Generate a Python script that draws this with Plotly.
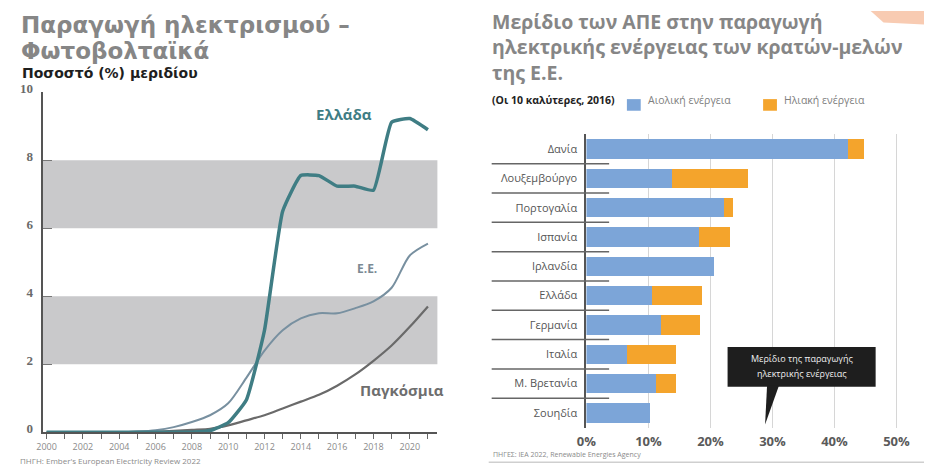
import plotly.graph_objects as go

W, H = 926, 474


def px(x):
    return x / W


def py(y):
    return 1 - y / H


# ---- Left panel: solar share of electricity generation (%) ----
years = list(range(2000, 2022))
greece = [0, 0, 0, 0, 0, 0, 0, 0, 0, 0.05, 0.28, 0.95, 3.0, 6.5, 7.55, 7.55,
          7.24, 7.24, 7.12, 9.12, 9.23, 8.9]
eu = [0, 0, 0, 0, 0, 0.02, 0.06, 0.15, 0.3, 0.5, 0.85, 1.6, 2.4, 3.0, 3.35,
      3.5, 3.5, 3.65, 3.85, 4.25, 5.2, 5.55]
world = [0, 0, 0, 0, 0, 0.01, 0.02, 0.04, 0.07, 0.1, 0.2, 0.35, 0.5, 0.7, 0.9,
         1.1, 1.37, 1.7, 2.1, 2.55, 3.1, 3.7]
bands = [(2, 4), (6, 8)]

# ---- Right panel: wind / solar share of electricity, top 10 EU (2016) ----
countries = ["Δανία", "Λουξεμβούργο", "Πορτογαλία", "Ισπανία", "Ιρλανδία",
             "Ελλάδα", "Γερμανία", "Ιταλία", "Μ. Βρετανία", "Σουηδία"]
wind = [42.2, 13.8, 22.2, 18.2, 20.6, 10.5, 12.1, 6.5, 11.2, 10.2]
solar = [2.5, 12.3, 1.4, 5.0, 0.0, 8.1, 6.2, 8.0, 3.3, 0.0]
pct_ticks = [0, 10, 20, 30, 40, 50]
pct_labels = [f"{v}%" for v in pct_ticks]

C_GREECE = "#3f7d84"
C_EU = "#7890a0"
C_WORLD = "#6a6a6a"
C_BAND = "#c9c9cb"
C_WIND = "#7ca5d8"
C_SOLAR = "#f4a42c"
C_TITLE = "#868686"

fig = go.Figure()

fig.add_trace(go.Scatter(x=years, y=world, mode="lines", xaxis="x", yaxis="y",
                         line=dict(color=C_WORLD, width=2.2, shape="spline", smoothing=0.8)))
fig.add_trace(go.Scatter(x=years, y=eu, mode="lines", xaxis="x", yaxis="y",
                         line=dict(color=C_EU, width=2, shape="spline", smoothing=0.8)))
fig.add_trace(go.Scatter(x=years, y=greece, mode="lines", xaxis="x", yaxis="y",
                         line=dict(color=C_GREECE, width=3.5, shape="spline", smoothing=0.4)))

fig.add_trace(go.Bar(y=countries, x=wind, orientation="h", xaxis="x2", yaxis="y2",
                     marker=dict(color=C_WIND, line=dict(width=0)), name="Αιολική ενέργεια"))
fig.add_trace(go.Bar(y=countries, x=solar, orientation="h", xaxis="x2", yaxis="y2",
                     marker=dict(color=C_SOLAR, line=dict(width=0)), name="Ηλιακή ενέργεια"))

shapes = []
for lo, hi in bands:
    shapes.append(dict(type="rect", xref="x domain", yref="y", x0=0, x1=1, y0=lo, y1=hi,
                       fillcolor=C_BAND, line=dict(width=0), layer="below"))

# short separators between country rows
for i in range(len(countries) - 1):
    shapes.append(dict(type="line", xref="paper", yref="y2", x0=px(488), x1=px(607),
                       y0=i + 0.5, y1=i + 0.5, line=dict(color="#666", width=1.5)))

# callout box with pointer
shapes.append(dict(type="rect", xref="paper", yref="paper", x0=px(727), x1=px(877),
                   y0=py(388), y1=py(347), fillcolor="#1e1e1e", line=dict(width=0)))
shapes.append(dict(type="path", xref="paper", yref="paper",
                   path=f"M {px(767)},{py(387)} L {px(779)},{py(387)} L {px(765)},{py(427)} Z",
                   fillcolor="#1e1e1e", line=dict(width=0)))

# legend swatches
shapes.append(dict(type="rect", xref="paper", yref="paper", x0=px(625), x1=px(639),
                   y0=py(103), y1=py(91), fillcolor=C_WIND, line=dict(width=0)))
shapes.append(dict(type="rect", xref="paper", yref="paper", x0=px(763), x1=px(777),
                   y0=py(103), y1=py(91), fillcolor=C_SOLAR, line=dict(width=0)))

# footer rule on the right and corner accent
shapes.append(dict(type="line", xref="paper", yref="paper", x0=px(485), x1=1,
                   y0=py(466), y1=py(466), line=dict(color="#cfcfcf", width=1.5)))
shapes.append(dict(type="path", xref="paper", yref="paper",
                   path=f"M {px(872)},1 L 1,1 L 1,{py(14)} L {px(885)},{py(12)} Z",
                   fillcolor="#f8cbb2", line=dict(width=0)))


def txt(x, y, s, size, color, family="Open Sans", bold=False, xanchor="left", yanchor="middle"):
    if bold:
        s = f"<b>{s}</b>"
    return dict(xref="paper", yref="paper", x=px(x), y=py(y), text=s, showarrow=False,
                xanchor=xanchor, yanchor=yanchor,
                font=dict(size=size, color=color, family=family))


annotations = [
    txt(9, 14, "Παραγωγή ηλεκτρισμού –", 23, C_TITLE, "DejaVu Sans", True),
    txt(9, 41, "Φωτοβολταϊκά", 23, C_TITLE, "DejaVu Sans", True),
    txt(10, 64, "Ποσοστό (%) μεριδίου", 14, "#1e1e1e", "DejaVu Sans", True),
    txt(338, 106, "Ελλάδα", 15, C_GREECE, "Open Sans", True, "center"),
    txt(362, 266, "Ε.Ε.", 12, "#7b8a94", "Open Sans", True, "center"),
    txt(397, 391, "Παγκόσμια", 15, "#6e6e6e", "Open Sans", True, "center"),
    txt(8, 464, "ΠΗΓΗ: Ember's European Electricity Review 2022", 8, "#8a8a8a", "Open Sans"),
    txt(486, 11, "Μερίδιο των ΑΠΕ στην παραγωγή", 19.5, C_TITLE, "Open Sans", True),
    txt(486, 37, "ηλεκτρικής ενέργειας των κρατών-μελών", 19.5, C_TITLE, "Open Sans", True),
    txt(486, 63, "της Ε.Ε.", 19.5, C_TITLE, "Open Sans", True),
    txt(486, 92, "(Οι 10 καλύτερες, 2016)", 10.5, "#222", "Open Sans", True),
    txt(644, 92, "Αιολική ενέργεια", 10.5, "#808080", "Open Sans"),
    txt(782, 92, "Ηλιακή ενέργεια", 10.5, "#808080", "Open Sans"),
    txt(802, 359, "Μερίδιο της παραγωγής", 9, "#f0f0f0", "Open Sans", False, "center"),
    txt(802, 374, "ηλεκτρικής ενέργειας", 9, "#f0f0f0", "Open Sans", False, "center"),
    txt(487, 458, "ΠΗΓΕΣ: ΙΕΑ 2022, Renewable Energies Agency", 7, "#8a8a8a", "Open Sans"),
]

fig.update_layout(
    width=W, height=H, autosize=False,
    margin=dict(l=0, r=0, t=0, b=0),
    paper_bgcolor="white", plot_bgcolor="white",
    showlegend=False, barmode="stack", bargap=0.34,
    shapes=shapes, annotations=annotations,
    xaxis=dict(domain=[px(33), px(433)], range=[1999.78, 2021.52],
               tickmode="linear", tick0=2000, dtick=2,
               ticks="outside", ticklen=5, tickcolor="#666", tickwidth=1,
               minor=dict(dtick=1, ticks="outside", ticklen=5, tickcolor="#666"),
               showline=True, linecolor="#555", linewidth=2,
               showgrid=False, zeroline=False,
               tickfont=dict(size=9, color="#8a8a8a", family="Open Sans")),
    yaxis=dict(domain=[py(435), py(84)], range=[0, 10],
               tickvals=[0, 2, 4, 6, 8, 10], ticks="inside", ticklen=9,
               tickcolor="#777", showline=True, linecolor="#555", linewidth=2,
               showgrid=False, zeroline=False, ticklabelstandoff=5, ticklabelshift=-4,
               tickfont=dict(size=13, color="#6a6a6a", family="Liberation Serif", weight="bold")),
    xaxis2=dict(domain=[px(584), px(910)], range=[0, 51.9], anchor="y2",
                tickmode="array", tickvals=pct_ticks, ticktext=pct_labels,
                ticks="outside", ticklen=2, tickcolor="rgba(0,0,0,0)",
                showgrid=True, gridcolor="#d6d6d6", gridwidth=1,
                showline=False, zeroline=False,
                tickfont=dict(size=13, color="#5a5a5a", family="Open Sans", weight="bold")),
    yaxis2=dict(domain=[py(430.2), py(127.4)], anchor="x2", type="category",
                categoryorder="array", categoryarray=countries,
                range=[len(countries) - 0.5, -0.5],
                showline=True, linecolor="#555", linewidth=2,
                ticks="", showgrid=False, zeroline=False, ticklabelstandoff=5,
                tickfont=dict(size=11, color="#555", family="Open Sans")),
)

fig.write_html("out.html")
